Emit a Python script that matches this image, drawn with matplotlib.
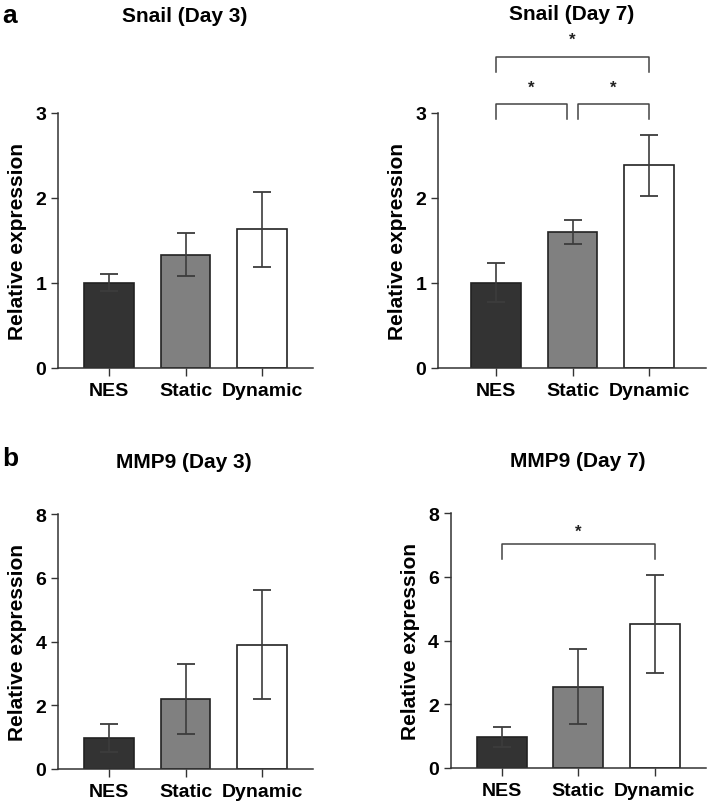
import matplotlib
matplotlib.use("Agg")
import matplotlib.pyplot as plt

plt.rcParams['font.family'] = ['Liberation Sans', 'DejaVu Sans']
plt.rcParams['font.weight'] = 'bold'

categories = ["NES", "Static", "Dynamic"]
bar_colors = ["#333333", "#808080", "#ffffff"]

snail_d3 = [1.00, 1.33, 1.63]
snail_d3_err = [0.10, 0.25, 0.44]
snail_d7 = [1.00, 1.60, 2.38]
snail_d7_err = [0.23, 0.14, 0.36]
mmp9_d3 = [0.97, 2.18, 3.90]
mmp9_d3_err = [0.45, 1.10, 1.72]
mmp9_d7 = [0.97, 2.55, 4.52]
mmp9_d7_err = [0.31, 1.17, 1.55]

titles = ["Snail (Day 3)", "Snail (Day 7)", "MMP9 (Day 3)", "MMP9 (Day 7)"]

W, H = 708, 804
fig = plt.figure(figsize=(W / 100, H / 100), dpi=100)


def px_axes(left, right, top, bottom):
    return fig.add_axes([left / W, 1 - bottom / H, (right - left) / W, (bottom - top) / H])


def draw(ax, vals, errs, ymax, yticks, xlim):
    x = list(range(len(categories)))
    ax.bar(x, vals, width=0.65, color=bar_colors, edgecolor="#222222", linewidth=1.2, zorder=2)
    ax.errorbar(x, vals, yerr=errs, fmt="none", ecolor="#3c3c3c", elinewidth=1.2,
                capsize=6.5, capthick=1.3, zorder=3)
    ax.set_xlim(*xlim)
    ax.set_ylim(0, ymax)
    ax.set_yticks(yticks)
    ax.set_xticks(x)
    ax.set_xticklabels(categories, fontsize=14, fontweight="bold")
    ax.tick_params(axis="y", labelsize=14, length=5, width=1, color="#333333")
    ax.tick_params(axis="x", length=6, width=1, color="#333333", pad=4)
    for lab in ax.get_yticklabels():
        lab.set_fontweight("bold")
    for s in ["top", "right"]:
        ax.spines[s].set_visible(False)
    for s in ["left", "bottom"]:
        ax.spines[s].set_color("#333333")
        ax.spines[s].set_linewidth(1.1)
    ax.set_ylabel("Relative expression", fontsize=15, fontweight="bold", labelpad=6)


def bracket(ax, x1, x2, y_leg, y_top, y_star):
    ax.plot([x1, x1, x2, x2], [y_leg, y_top, y_top, y_leg], color="#444444", lw=1.1,
            clip_on=False, zorder=4)
    ax.text((x1 + x2) / 2, y_star, "*", ha="center", va="center", fontsize=12,
            fontweight="bold", color="#222222", clip_on=False)


ax1 = px_axes(58, 313, 113.7, 368.7)
draw(ax1, snail_d3, snail_d3_err, 3, [0, 1, 2, 3], (-0.667, 2.667))

ax2 = px_axes(438, 706, 113.7, 368.7)
draw(ax2, snail_d7, snail_d7_err, 3, [0, 1, 2, 3], (-0.76, 2.745))
bracket(ax2, 0, 0.93, 2.93, 3.10, 3.30)
bracket(ax2, 1.07, 2, 2.93, 3.10, 3.30)
bracket(ax2, 0, 2, 3.48, 3.66, 3.86)

ax3 = px_axes(58, 313, 515.3, 769.7)
draw(ax3, mmp9_d3, mmp9_d3_err, 8, [0, 2, 4, 6, 8], (-0.667, 2.667))

ax4 = px_axes(450.7, 706, 514.3, 768.7)
draw(ax4, mmp9_d7, mmp9_d7_err, 8, [0, 2, 4, 6, 8], (-0.667, 2.667))
bracket(ax4, 0, 2, 6.55, 7.04, 7.45)

fig.text(184.7 / W, 1 - 16 / H, titles[0], ha="center", va="center", fontsize=15, fontweight="bold")
fig.text(572 / W, 1 - 14 / H, titles[1], ha="center", va="center", fontsize=15, fontweight="bold")
fig.text(184 / W, 1 - 462.7 / H, titles[2], ha="center", va="center", fontsize=15, fontweight="bold")
fig.text(577.7 / W, 1 - 462 / H, titles[3], ha="center", va="center", fontsize=15, fontweight="bold")

fig.text(2 / W, 1 - 16 / H, "a", ha="left", va="center", fontsize=19, fontweight="bold")
fig.text(2 / W, 1 - 459 / H, "b", ha="left", va="center", fontsize=19, fontweight="bold")

fig.savefig("out.png", dpi=100)
